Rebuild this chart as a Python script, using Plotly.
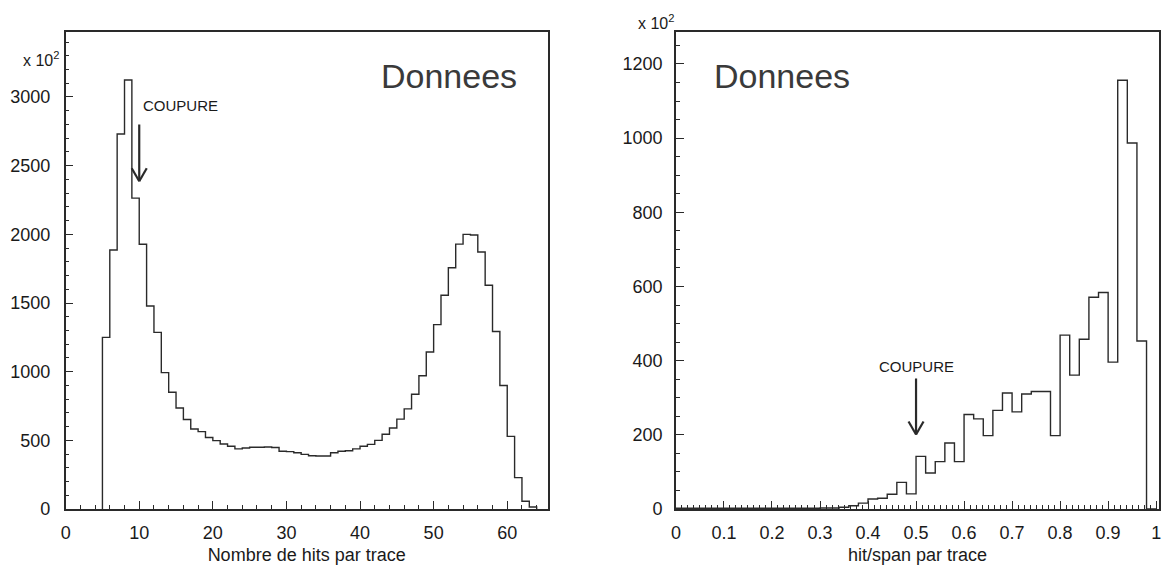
import numpy as np
import plotly.graph_objects as go

# ---------------- data ----------------
# Left: number of hits per track (units of 10^2), bins of width 1 starting at 5
hits_first_bin = 5
hits_bin_width = 1
hits_counts = [1250, 1886, 2731, 3124, 2264, 1928, 1478, 1286, 993, 850,
               736, 652, 583, 564, 521, 498, 474, 457, 438, 445,
               450, 450, 452, 448, 421, 418, 410, 398, 388, 386,
               386, 410, 421, 425, 438, 457, 471, 500, 545, 590,
               655, 729, 836, 971, 1143, 1343, 1557, 1757, 1929, 2000,
               1995, 1871, 1629, 1293, 900, 529, 229, 57, 15]

# Right: hit/span per track (units of 10^2), bins of width 0.02 from 0 to 1
span_first_bin = 0.0
span_bin_width = 0.02
span_counts = [2, 2, 2, 2, 2, 2, 2, 2, 2, 2,
               2, 2, 2, 2, 2, 3, 3, 5, 9, 16,
               27, 29, 40, 72, 41, 142, 97, 128, 178, 128,
               255, 243, 198, 266, 313, 262, 310, 317, 317, 198,
               469, 361, 458, 571, 584, 396, 1156, 987, 453, 0]

left_cut = 10        # COUPURE position, left panel
right_cut = 0.5      # COUPURE position, right panel
left_title = "Nombre de hits par trace"
right_title = "hit/span par trace"
panel_label = "Donnees"
cut_label = "COUPURE"
scale_label = "x 10<sup>2</sup>"

# ---------------- helpers ----------------
def step_xy(first, width, counts):
    edges = first + width * np.arange(len(counts) + 1)
    x = [edges[0]] + list(edges)
    y = [0] + list(counts) + [0]
    return x, y

INK = "#2a2a2a"
FONT = "Liberation Sans, Arial, Helvetica, sans-serif"
W, H = 1164, 579

fig = go.Figure()
lx, ly = step_xy(hits_first_bin, hits_bin_width, hits_counts)
fig.add_trace(go.Scatter(x=lx, y=ly, mode="lines", line=dict(color=INK, width=1.4, shape="hv"),
                         xaxis="x", yaxis="y", showlegend=False, hoverinfo="skip"))
rx, ry = step_xy(span_first_bin, span_bin_width, span_counts)
fig.add_trace(go.Scatter(x=rx, y=ry, mode="lines", line=dict(color=INK, width=1.4, shape="hv"),
                         xaxis="x2", yaxis="y2", showlegend=False, hoverinfo="skip"))

ydom = [1 - 518 / H, 1 - 33 / H]

def axis_common(standoff):
    return dict(showline=True, mirror=True, linecolor=INK, linewidth=1.6,
                ticks="inside", ticklen=8, tickwidth=1.2, tickcolor=INK,
                showgrid=False, zeroline=False, ticklabelstandoff=standoff,
                tickfont=dict(family=FONT, size=18, color="#1a1a1a"))

fig.update_layout(
    width=W, height=H,
    margin=dict(l=0, r=0, t=0, b=0),
    paper_bgcolor="white", plot_bgcolor="white",
    xaxis=dict(domain=[61 / W, 546 / W], range=[0, 65.5], anchor="y",
               tick0=0, dtick=10,
               minor=dict(dtick=2, ticks="inside", ticklen=4, tickcolor=INK, showgrid=False),
               title=dict(text=left_title, font=dict(family=FONT, size=18, color="#1a1a1a"), standoff=6),
               **axis_common(7)),
    yaxis=dict(domain=ydom, range=[0, 3470], anchor="x",
               tick0=0, dtick=500,
               minor=dict(dtick=100, ticks="inside", ticklen=4, tickcolor=INK, showgrid=False),
               **axis_common(10)),
    xaxis2=dict(domain=[675 / W, 1161 / W], range=[0, 1.006], anchor="y2",
                tick0=0, dtick=0.1,
                minor=dict(dtick=0.0125, ticks="inside", ticklen=4, tickcolor=INK, showgrid=False),
                title=dict(text=right_title, font=dict(family=FONT, size=18, color="#1a1a1a"), standoff=6),
                **axis_common(7)),
    yaxis2=dict(domain=ydom, range=[0, 1285], anchor="x2",
                tick0=0, dtick=200,
                minor=dict(dtick=50, ticks="inside", ticklen=4, tickcolor=INK, showgrid=False),
                **axis_common(8)),
)

# ---------------- annotations ----------------
ann = []
# exponent labels
ann.append(dict(text=scale_label, xref="paper", yref="paper", x=36 / W, y=1 - 60 / H,
                xanchor="center", yanchor="middle",
                showarrow=False, font=dict(family=FONT, size=16, color="#1a1a1a")))
ann.append(dict(text=scale_label, xref="paper", yref="paper", x=655 / W, y=1 - 22 / H,
                xanchor="center", yanchor="middle",
                showarrow=False, font=dict(family=FONT, size=16, color="#1a1a1a")))
# panel labels
ann.append(dict(text=panel_label, xref="x domain", yref="y domain", x=0.796, y=0.909,
                xanchor="center", yanchor="middle",
                showarrow=False, font=dict(family=FONT, size=34, color="#3a3a3a")))
ann.append(dict(text=panel_label, xref="x2 domain", yref="y2 domain", x=0.219, y=0.909,
                xanchor="center", yanchor="middle",
                showarrow=False, font=dict(family=FONT, size=34, color="#3a3a3a")))
# cut labels
ann.append(dict(text=cut_label, xref="x", yref="y", x=left_cut + 5.6, y=2936,
                xanchor="center", yanchor="middle",
                showarrow=False, font=dict(family=FONT, size=15, color="#1a1a1a")))
ann.append(dict(text=cut_label, xref="x2", yref="y2", x=right_cut, y=385,
                xanchor="center", yanchor="middle",
                showarrow=False, font=dict(family=FONT, size=15, color="#1a1a1a")))
fig.update_layout(annotations=ann)

# arrows (shaft in data coords, V head in pixels around the tip)
def add_arrow(xref, yref, xc, ytail, ytip):
    fig.add_shape(type="line", xref=xref, yref=yref, x0=xc, x1=xc, y0=ytail, y1=ytip,
                  line=dict(color=INK, width=2.2))
    for dx in (-7.5, 7.5):
        fig.add_shape(type="line", xref=xref, yref=yref, xsizemode="pixel", ysizemode="pixel",
                      xanchor=xc, yanchor=ytip, x0=dx, y0=13, x1=0, y1=0,
                      line=dict(color=INK, width=2.2))

add_arrow("x", "y", left_cut, 2800, 2386)
add_arrow("x2", "y2", right_cut, 352, 201)

fig.write_html("out.html")
